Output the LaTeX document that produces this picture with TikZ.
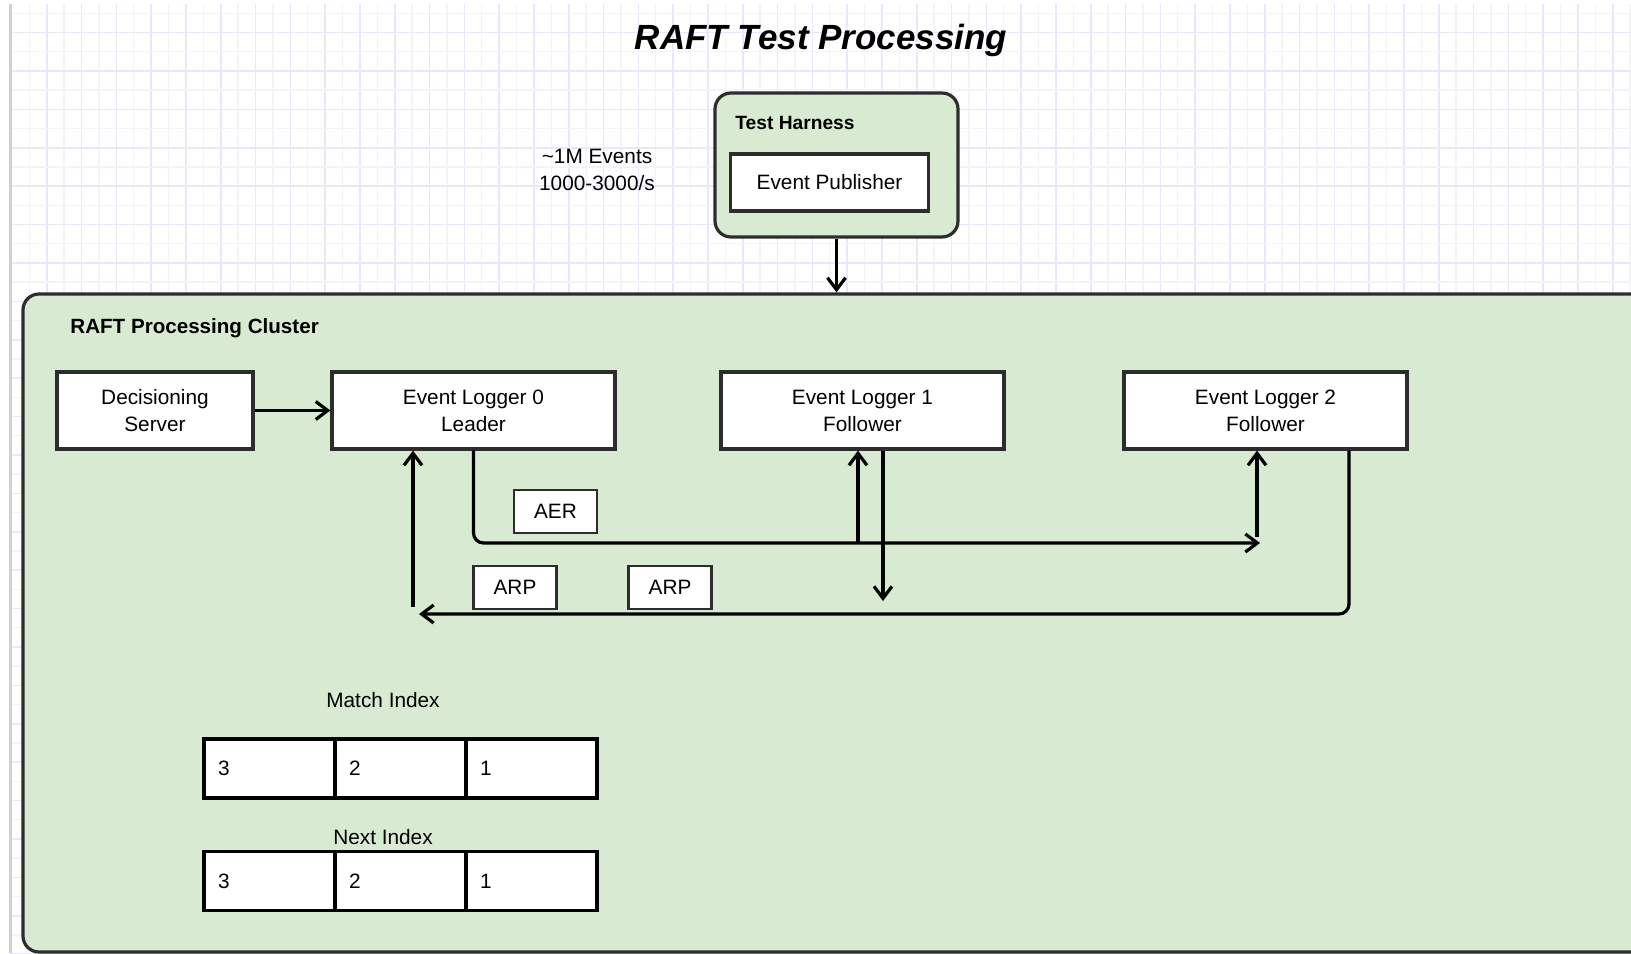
\documentclass[tikz,border=0pt]{standalone}
\usepackage{fontspec}
\setmainfont{Liberation Sans}
\usetikzlibrary{arrows.meta}

\definecolor{clusterfill}{RGB}{217,234,211}
\definecolor{gridmajor}{RGB}{232,232,250}
\definecolor{gridminor}{RGB}{243,243,252}
\definecolor{edgegray}{RGB}{208,208,208}
\definecolor{frame}{RGB}{45,45,45}

\tikzset{
  lbl/.style={font=\fontsize{10.4}{13.5}\selectfont, align=center, text=black},
  box/.style={draw=frame, line width=1.6pt, fill=white, inner sep=0pt, lbl},
  tag/.style={draw=frame, line width=1.1pt, fill=white, inner sep=0pt,
              minimum width=41.5pt, minimum height=21.5pt, lbl},
  group/.style={draw=frame, line width=1.6pt, fill=clusterfill, rounded corners=8pt},
  conn/.style={draw=black, line width=1.6pt},
  tip/.style={-{Straight Barb[length=6pt,width=9pt]}},
  cell/.style={draw=black, line width=1.8pt, fill=white, minimum height=29.5pt,
               text width=51.35pt, inner xsep=7pt, inner ysep=0pt, align=left,
               font=\fontsize{10.4}{13.5}\selectfont},
  heading/.style={font=\fontsize{10.3}{13.5}\selectfont\bfseries, inner sep=0pt},
}

\begin{document}
\begin{tikzpicture}[x=0.5pt,y=-0.5pt]
\useasboundingbox (0,0) rectangle (1631,953);
\clip (0,0) rectangle (1631,953);
\fill[white] (0,0) rectangle (1631,953);

% paper grid
\foreach \k in {0,...,92}{
  \pgfmathsetmacro{\gx}{29.3+17.4*\k}
  \ifodd\k
    \draw[gridmajor,line width=0.8pt] (\gx,4) -- (\gx,953);
  \else
    \draw[gridminor,line width=0.7pt] (\gx,4) -- (\gx,953);
  \fi
}
\foreach \k in {0,...,49}{
  \pgfmathsetmacro{\gy}{13.3+19.2*\k}
  \ifodd\k
    \draw[gridmajor,line width=0.8pt] (11,\gy) -- (1631,\gy);
  \else
    \draw[gridminor,line width=0.7pt] (11,\gy) -- (1631,\gy);
  \fi
}
\draw[edgegray,line width=1.2pt] (10.5,4) -- (10.5,953);

% title
\node[anchor=base, inner sep=0pt, font=\fontsize{17.5}{21}\selectfont\bfseries\itshape] (title)
  at (821,49) {RAFT Test Processing};

% test harness
\node[group, minimum width=121.5pt, minimum height=72pt] (harness) at (836.5,165) {};
\node[heading, font=\fontsize{9.6}{12}\selectfont\bfseries, anchor=base west] (harnesslbl)
  at (735,129) {Test Harness};
\node[box, minimum width=98.8pt, minimum height=28.5pt] (pub) at (829.5,182.5) {Event Publisher};

\node[lbl] (rate) at (597,169.5) {\textasciitilde{}1M Events\\1000-3000/s};

% processing cluster
\node[group, minimum width=848.5pt, minimum height=329pt] (cluster) at (871.5,623) {};
\node[heading, anchor=base west] (clusterlbl) at (70,333) {RAFT Processing Cluster};

\draw[conn,tip] (harness.south) -- (harness.south |- cluster.north);

% servers
\node[box, minimum width=98pt, minimum height=38.5pt] (dec) at (155,410.5) {Decisioning\\Server};
\node[box, minimum width=141.5pt, minimum height=38.5pt] (el0) at (473.5,410.5) {Event Logger 0\\Leader};
\node[box, minimum width=141.5pt, minimum height=38.5pt] (el1) at (862.5,410.5) {Event Logger 1\\Follower};
\node[box, minimum width=141.5pt, minimum height=38.5pt] (el2) at (1265.5,410.5) {Event Logger 2\\Follower};

\draw[conn,tip] (dec.east) -- (el0.west);

% append entries requests
\coordinate (aerend) at (1260,543);
\coordinate (b1) at (858,543);
\coordinate (b2) at (1257,537);
\draw[conn,tip,rounded corners=5pt] (el0.south) |- (aerend);
\draw[conn,tip] (b1) -- (b1 |- el1.south);
\draw[conn,tip] (b2) -- (b2 |- el2.south);

% append entries responses
\coordinate (d1) at (883,601);
\coordinate (r2) at (1349,600);
\coordinate (arpend) at (419,614);
\coordinate (u0) at (413,607);
\draw[conn,tip] (d1 |- el1.south) -- (d1);
\draw[conn,tip,rounded corners=5pt] (el2.south -| r2) |- (arpend);
\draw[conn,tip] (u0) -- (u0 |- el0.south);

\node[tag] (aer) at (555.5,511.5) {AER};
\node[tag] (arp1) at (515,587.5) {ARP};
\node[tag] (arp2) at (670,587.5) {ARP};

% leader index tables
\node[lbl] (matchlbl) at (383,700.5) {Match Index};
\node[cell] (m3) at (269.5,768.5) {3};
\node[cell] (m2) at (400.5,768.5) {2};
\node[cell] (m1) at (531.5,768.5) {1};

\node[lbl] (nextlbl) at (383,837.5) {Next Index};
\node[cell] (n3) at (269.5,881) {3};
\node[cell] (n2) at (400.5,881) {2};
\node[cell] (n1) at (531.5,881) {1};
\end{tikzpicture}
\end{document}
